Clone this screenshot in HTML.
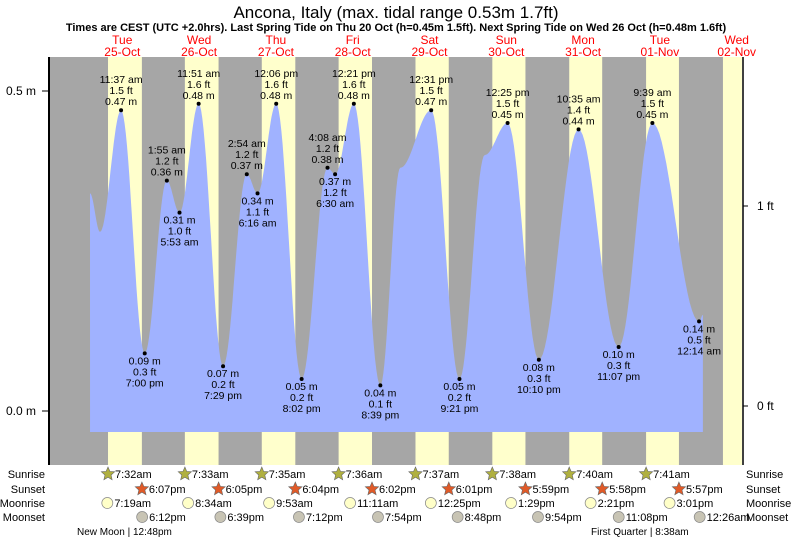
<!DOCTYPE html>
<html><head><meta charset="utf-8"><style>
body{margin:0;background:#fff;}
svg text{font-family:"Liberation Sans",sans-serif;}
</style></head><body>
<svg id="c" width="793" height="539" xmlns="http://www.w3.org/2000/svg">
<text x="396" y="18" font-size="17" text-anchor="middle">Ancona, Italy (max. tidal range 0.53m 1.7ft)</text>
<text x="396" y="31" font-size="11" font-weight="bold" text-anchor="middle">Times are CEST (UTC +2.0hrs). Last Spring Tide on Thu 20 Oct (h=0.45m 1.5ft). Next Spring Tide on Wed 26 Oct (h=0.48m 1.6ft)</text>
<g id="g"></g>
</svg>
<script>
// data
const dayNames=["Tue","Wed","Thu","Fri","Sat","Sun","Mon","Tue","Wed"];
const dayDates=["25-Oct","26-Oct","27-Oct","28-Oct","29-Oct","30-Oct","31-Oct","01-Nov","02-Nov"];
const sunrise=["7:32am","7:33am","7:35am","7:36am","7:37am","7:38am","7:40am","7:41am","7:42am"];
const sunset=["6:07pm","6:05pm","6:04pm","6:02pm","6:01pm","5:59pm","5:58pm","5:57pm","5:56pm"];
const moonrise=["7:19am","8:34am","9:53am","11:11am","12:25pm","1:29pm","2:21pm","3:01pm"];
const moonset=["6:12pm","6:39pm","7:12pm","7:54pm","8:48pm","9:54pm","11:08pm","12:26am"];
const moonsetDay=[0,1,2,3,4,5,6,8];
// tide curve points: time in days from Tue 25-Oct 00:00, height m
const tideT=[0.08,0.21,0.484,0.792,1.080,1.245,1.494,1.812,2.121,2.261,2.504,2.835,3.172,3.271,3.515,3.860,4.12,4.522,4.890,5.22,5.517,5.924,6.441,6.963,7.402,8.010,8.06];
const tideH=[0.34,0.28,0.47,0.09,0.36,0.31,0.48,0.07,0.37,0.34,0.48,0.05,0.38,0.37,0.48,0.04,0.38,0.47,0.05,0.40,0.45,0.08,0.44,0.10,0.45,0.14,0.15];
// labelled extremes
const exT=[0.484,0.792,1.080,1.245,1.494,1.812,2.121,2.261,2.504,2.835,3.172,3.271,3.515,3.860,4.522,4.890,5.517,5.924,6.441,6.963,7.402,8.010];
const exH=[0.47,0.09,0.36,0.31,0.48,0.07,0.37,0.34,0.48,0.05,0.38,0.37,0.48,0.04,0.47,0.05,0.45,0.08,0.44,0.10,0.45,0.14];
const exFt=["1.5","0.3","1.2","1.0","1.6","0.2","1.2","1.1","1.6","0.2","1.2","1.2","1.6","0.1","1.5","0.2","1.5","0.3","1.4","0.3","1.5","0.5"];
const exTime=["11:37 am","7:00 pm","1:55 am","5:53 am","11:51 am","7:29 pm","2:54 am","6:16 am","12:06 pm","8:02 pm","4:08 am","6:30 am","12:21 pm","8:39 pm","12:31 pm","9:21 pm","12:25 pm","10:10 pm","10:35 am","11:07 pm","9:39 am","12:14 am"];
const exHigh=[1,0,1,0,1,0,1,0,1,0,1,0,1,0,1,0,1,0,1,0,1,0];

const NS="http://www.w3.org/2000/svg";
const g=document.getElementById('g');
const X0=83.9,DW=76.8,PL=49,PR=742,PT=57,PB=465;
const xs=t=>X0+t*DW;
const ys=h=>411-h*640;
function pt(s){const m=s.match(/(\d+):(\d+)\s*(am|pm)/);let h=+m[1]%12;if(m[3]=="pm")h+=12;return (h+ +m[2]/60)/24;}
function el(tag,a,txt){const e=document.createElementNS(NS,tag);for(const k in a)e.setAttribute(k,a[k]);if(txt!=null)e.textContent=txt;g.appendChild(e);return e;}

let e=el('rect',{x:PL,y:PT,width:PR-PL,height:PB-PT,fill:'#a6a6a6'});


for(let d=0;d<9;d++){
  const a=Math.max(PL,xs(d+pt(sunrise[d]))),b=Math.min(PR,xs(d+pt(sunset[d])));
  if(b>a){e=el('rect',{x:a,y:PT,width:b-a,height:PB-PT,fill:'#ffffcc'});
  
  }
  const cx=xs(d+0.5);
  e=el('text',{x:cx,y:44,'font-size':12,fill:'#ff0000','text-anchor':'middle'},dayNames[d]);
  
  
  e=el('text',{x:cx,y:56,'font-size':12,fill:'#ff0000','text-anchor':'middle'},dayDates[d]);
  
  
}
// tide area
let p=[];
for(let i=0;i<tideT.length-1;i++){
  const t0=tideT[i],t1=tideT[i+1],h0=tideH[i],h1=tideH[i+1];
  for(let k=0;k<=20;k++){const f=k/20,t=t0+(t1-t0)*f,h=h0+(h1-h0)*(1-Math.cos(Math.PI*f))/2;p.push(xs(t).toFixed(1)+','+ys(h).toFixed(1));}
}
const yb=432;
e=el('path',{d:'M'+xs(tideT[0])+','+yb+' L'+p.join(' L')+' L'+xs(tideT[tideT.length-1])+','+yb+' Z',fill:'#a0b2ff'});


// axes
e=el('line',{x1:PL,y1:PT,x2:PL,y2:PB,stroke:'#000','stroke-width':2});


e=el('line',{x1:PR+1,y1:PT,x2:PR+1,y2:PB,stroke:'#000','stroke-width':1.5});


[[0.5,'0.5 m'],[0,'0.0 m']].forEach(([h,l])=>{
  e=el('line',{x1:PL-7,y1:ys(h),x2:PL,y2:ys(h),stroke:'#000'});
  
  
  e=el('text',{x:36,y:ys(h)+4,'font-size':12,'text-anchor':'end'},l);
  
  
});
[[206,'1 ft'],[406,'0 ft']].forEach(([y,l])=>{
  e=el('line',{x1:PR+1,y1:y,x2:PR+6,y2:y,stroke:'#000'});
  
  
  e=el('text',{x:757,y:y+4,'font-size':12},l);
  
  
});
// extremes
for(let i=0;i<exT.length;i++){
  const x=xs(exT[i]),y=ys(exH[i]);
  e=el('circle',{cx:x,cy:y,r:2,fill:'#000'});
  
  
  const lines=exHigh[i]?[exTime[i],exFt[i]+' ft',exH[i].toFixed(2)+' m']:[exH[i].toFixed(2)+' m',exFt[i]+' ft',exTime[i]];
  const base=exHigh[i]?y-27:y+11;
  lines.forEach((s,j)=>{
    e=el('text',{x:x,y:base+j*11,'font-size':10.5,'text-anchor':'middle'},s);
    
    
  });
}
// bottom rows
const rows=[['Sunrise',478],['Sunset',493],['Moonrise',507],['Moonset',521]];
rows.forEach(([l,y])=>{
  e=el('text',{x:45,y:y,'font-size':11,'text-anchor':'end'},l);
  
  
  e=el('text',{x:746,y:y,'font-size':11},l);
  
  
});
function star(cx,cy,fill){let s=[];for(let k=0;k<10;k++){const r=k%2?3.2:7,a=-Math.PI/2+k*Math.PI/5;s.push((cx+r*Math.cos(a)).toFixed(1)+','+(cy+r*Math.sin(a)).toFixed(1));}return el('polygon',{points:s.join(' '),fill:fill,stroke:'#666','stroke-width':0.6});}
function ev(x,y,txt,kind){
  if(x<PL||x>PR)return;
  if(kind<2){e=star(x,y-4,kind==0?'#b0b040':'#e05a28');}
  else {e=el('circle',{cx:x,cy:y-4,r:5.5,fill:kind==2?'#ffffc8':'#c8c4b4',stroke:'#888','stroke-width':0.7});}
  
  
  e=el('text',{x:x+7,y:y,'font-size':11},txt);
  
  
}
for(let d=0;d<8;d++){
  ev(xs(d+pt(sunrise[d])),478,sunrise[d],0);
  ev(xs(d+pt(sunset[d])),493,sunset[d],1);
  ev(xs(d+pt(moonrise[d])),507,moonrise[d],2);
  ev(xs(moonsetDay[d]+pt(moonset[d])),521,moonset[d],3);
}
e=el('text',{x:77,y:535,'font-size':10},'New Moon | 12:48pm');


e=el('text',{x:591,y:535,'font-size':10},'First Quarter | 8:38am');


</script>
</body></html>
